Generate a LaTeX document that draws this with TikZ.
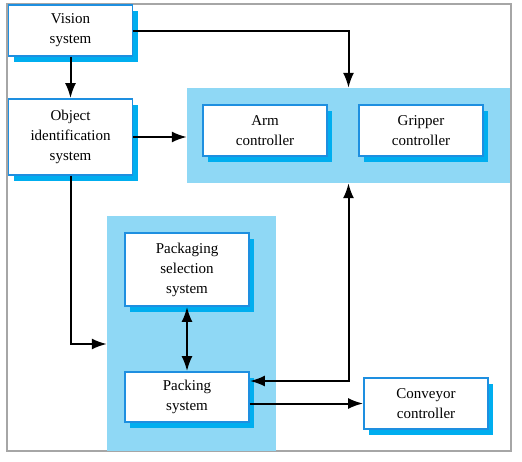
\documentclass[tikz,border=0pt]{standalone}
\usepackage{fontspec}
\setmainfont{Liberation Serif}
\usetikzlibrary{arrows.meta,shadows}
\definecolor{regionc}{HTML}{8FD8F5}
\definecolor{borderc}{HTML}{1E8FE0}
\definecolor{shadowc}{HTML}{00AEEF}
\definecolor{framec}{HTML}{A6A6A6}
\begin{document}
\begin{tikzpicture}[x=1pt,y=-1pt,
  region/.style={rectangle, fill=regionc, draw=none, inner sep=0pt},
  blockbox/.style={rectangle, draw=borderc, line width=1.8pt, fill=white,
    general shadow={fill=shadowc, shadow xshift=5pt, shadow yshift=-6pt},
    minimum width=124pt, inner sep=0pt, align=center,
    font=\fontsize{15}{20}\selectfont},
  arr/.style={-{Latex[length=15pt,width=11pt]}, line width=2pt, black},
  dblarr/.style={{Latex[length=15pt,width=11pt]}-{Latex[length=15pt,width=11pt]}, line width=2pt, black}]
\useasboundingbox (0,0) rectangle (522,461);
\draw[framec, line width=1.2pt] (7,4) rectangle (511,451);
% regions
\node[region, minimum width=323pt, minimum height=95pt] (topreg) at (348.5,135.5) {};
\node[region, minimum width=169pt, minimum height=235pt] (botreg) at (191.5,333.5) {};
% boxes
\node[blockbox, minimum height=51pt] (vision) at (70.5,30.5) {Vision\\system};
\node[blockbox, minimum height=76pt] (obj) at (70.5,137) {Object\\identification\\system};
\node[blockbox, minimum height=51pt] (arm) at (265,130.5) {Arm\\controller};
\node[blockbox, minimum height=51pt] (grip) at (421,130.5) {Gripper\\controller};
\node[blockbox, minimum height=73pt] (psel) at (187,269.5) {Packaging\\selection\\system};
\node[blockbox, minimum height=50pt] (packing) at (187,397) {Packing\\system};
\node[blockbox, minimum height=51pt] (conv) at (426,403.5) {Conveyor\\controller};
% connectors
\draw[arr] (vision.south) -- (obj.north);
\draw[arr] (vision.east) -| (topreg.north);
\draw[arr] (obj.east) -- (obj.east -| topreg.west);
\draw[arr] (obj.south) |- ([yshift=-10.5pt]botreg.west);
\draw[dblarr] (psel.south) -- (packing.north);
\draw[dblarr] (topreg.south) |- ([yshift=16pt]packing.east);
\draw[arr] (conv.west -| packing.east) -- (conv.west);
\end{tikzpicture}
\end{document}
